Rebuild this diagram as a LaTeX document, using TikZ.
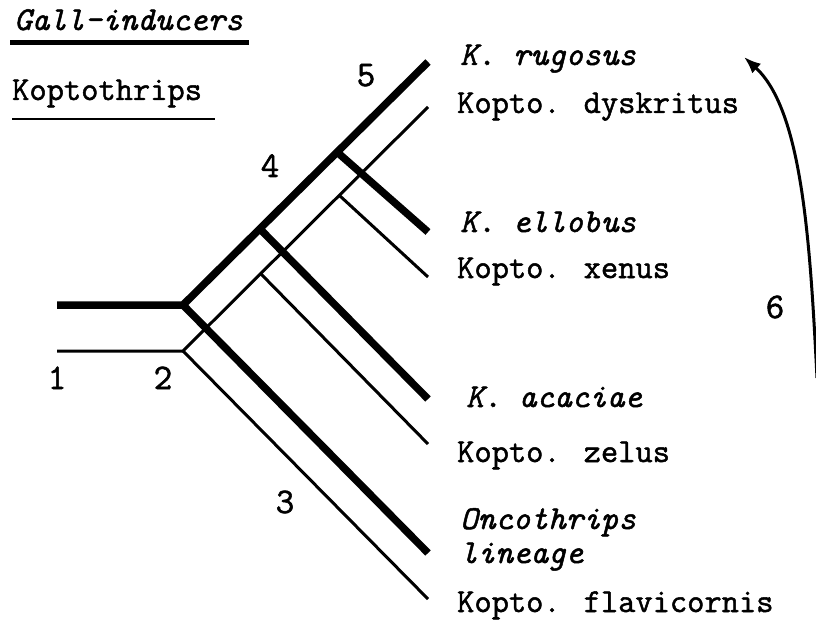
\documentclass[tikz,border=0pt]{standalone}
\usepackage{fontspec}
\setmainfont{Latin Modern Mono}[FakeBold=1.5]
\usetikzlibrary{arrows.meta}
\begin{document}
\begin{tikzpicture}[x=1pt,y=-1pt,
  thickbranch/.style={line width=7.5pt, line join=miter},
  thinbranch/.style={line width=3pt, line join=miter},
  taxon/.style={anchor=base west, inner sep=0pt, font=\fontsize{33.5}{33.5}\selectfont},
  numlabel/.style={anchor=base, inner sep=0pt, font=\fontsize{36}{36}\selectfont}]
\useasboundingbox (0,0) rectangle (816,620);
% legend
\node[taxon] (gall) at (14,30) {\itshape Gall-inducers};
\node[taxon] (kopt) at (12,100) {Koptothrips};
\coordinate (gu1) at (10,43); \coordinate (gu2) at (249,43);
\coordinate (ku1) at (12,119); \coordinate (ku2) at (215,119);
\draw[line width=5pt] (gu1) -- (gu2);
\draw[line width=2.5pt] (ku1) -- (ku2);
% thick (gall-inducer) tree
\coordinate (T1) at (57,305);
\coordinate (T2) at (183,305);
\coordinate (T4) at (262,231);
\coordinate (T5) at (337,152);
\coordinate (Truc) at (428,62);
\coordinate (Tell) at (428,232);
\coordinate (Taca) at (428,399);
\coordinate (Tonc) at (428,553);
% thin (Koptothrips) tree
\coordinate (S1) at (57,351);
\coordinate (S2) at (183,351);
\coordinate (S4) at (261,274);
\coordinate (S5) at (340,196);
\coordinate (Sdys) at (428,107);
\coordinate (Sxen) at (428,277);
\coordinate (Szel) at (428,444);
\coordinate (Sfla) at (428,599);
\draw[thinbranch] (S1) -- (S2) -- (Sdys);
\draw[thinbranch] (S2) -- (Sfla);
\draw[thinbranch] (S4) -- (Szel);
\draw[thinbranch] (S5) -- (Sxen);
\draw[thickbranch] (T1) -- (T2) -- (Truc);
\draw[thickbranch] (T2) -- (Tonc);
\draw[thickbranch] (T4) -- (Taca);
\draw[thickbranch] (T5) -- (Tell);
% taxa
\node[taxon] (ruc) at (460,65) {\itshape K. rugosus};
\node[taxon] (dys) at (457,113) {Kopto. dyskritus};
\node[taxon] (ell) at (460,232) {\itshape K. ellobus};
\node[taxon] (xen) at (457,278) {Kopto. xenus};
\node[taxon] (aca) at (466,407) {\itshape K. acaciae};
\node[taxon] (zel) at (457,462) {Kopto. zelus};
\node[taxon] (onc) at (460,529) {\itshape Oncothrips};
\node[taxon] (lin) at (460,563) {\itshape lineage};
\node[taxon] (fla) at (457,612) {Kopto. flavicornis};
% numbers
\node[numlabel] (n1) at (57,389) {1};
\node[numlabel] (n2) at (163,389) {2};
\node[numlabel] (n3) at (285,513) {3};
\node[numlabel] (n4) at (270,177) {4};
\node[numlabel] (n5) at (366,86) {5};
\node[numlabel] (n6) at (775,318) {6};
% arrow 6
\coordinate (a6s) at (817,378);
\coordinate (a6e) at (744,57);
\draw[line width=3pt, -{Latex[length=17pt,width=13pt]}] (a6s) .. controls (810,240) and (802,110) .. (a6e);
\end{tikzpicture}
\end{document}
